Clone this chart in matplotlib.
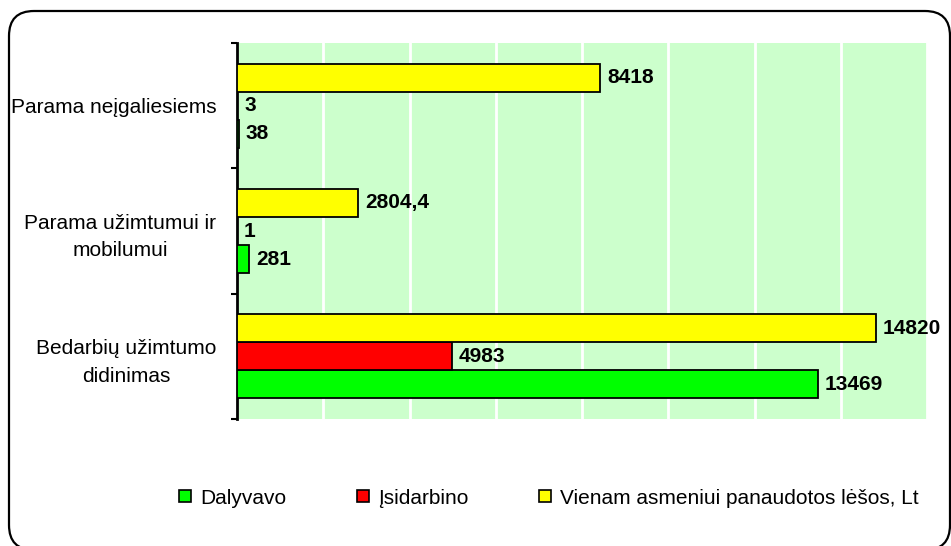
import matplotlib
matplotlib.use("Agg")
from matplotlib import pyplot as plt
from matplotlib.patches import FancyBboxPatch, Patch
from matplotlib.transforms import IdentityTransform
import numpy as np

# data (categories from bottom to top)
categories = ["Bedarbių užimtumo\ndidinimas",
              "Parama užimtumui ir\nmobilumui",
              "Parama neįgaliesiems"]
series_names = ["Dalyvavo", "Įsidarbino", "Vienam asmeniui panaudotos lėšos, Lt"]
dalyvavo = [13469, 281, 38]
isidarbino = [4983, 1, 3]
vienam = [14820, 2804.4, 8418]
colors = ["#00FF00", "#FF0000", "#FFFF00"]

plt.rcParams['font.family'] = ['Liberation Sans', 'DejaVu Sans']
plt.rcParams['font.size'] = 15

W, H = 951, 546
fig = plt.figure(figsize=(W / 100, H / 100), dpi=100)
ax = fig.add_axes([237 / W, 1 - 419 / H, (927 - 237) / W, (419 - 43) / H])
ax.set_facecolor("#CCFFCC")

def fmt(v):
    if float(v).is_integer():
        return str(int(v))
    return str(v).replace(".", ",")

y = np.arange(len(categories))
h = 0.2235
for i, (vals, c) in enumerate(zip([dalyvavo, isidarbino, vienam], colors)):
    pos = y + (i - 1) * h
    ax.barh(pos, vals, height=h, color=c, edgecolor="black", linewidth=1.3, zorder=3)
    for p, v in zip(pos, vals):
        ax.annotate(fmt(v), (v, p), xytext=(5, 0), textcoords="offset points",
                    va="center", ha="left", fontweight="bold", zorder=4)

ax.set_xlim(0, 16000)
ax.set_ylim(-0.5, len(categories) - 0.5)
ax.set_xticks(np.arange(0, 16001, 2000))
ax.xaxis.grid(True, color="white", linewidth=2, zorder=1)
ax.set_axisbelow(True)
ax.tick_params(axis="x", length=0, labelbottom=False)

# category axis: boundary ticks + centered labels
ax.set_yticks(np.arange(-0.5, len(categories), 1.0))
ax.set_yticklabels([])
ax.tick_params(axis="y", which="major", length=4.5, width=1.5, direction="out")
ax.set_yticks(y, minor=True)
ax.set_yticklabels(categories, minor=True)
ax.tick_params(axis="y", which="minor", length=0, pad=15)
for lab in ax.get_yticklabels(minor=True):
    lab.set_multialignment("center")
    lab.set_linespacing(1.55)

for s in ["top", "right", "bottom"]:
    ax.spines[s].set_visible(False)
ax.spines["left"].set_linewidth(2)

handles = [Patch(facecolor=c, edgecolor="black", linewidth=1.2) for c in colors]
fig.legend(handles, series_names, loc="center", bbox_to_anchor=(549 / W, 1 - 498 / H),
           ncol=3, frameon=False, handlelength=0.55, handleheight=0.55,
           handletextpad=0.45, columnspacing=3.4)

# rounded outer border
border = FancyBboxPatch((9, -4), 941, 539, boxstyle="round,pad=0,rounding_size=25",
                        transform=IdentityTransform(), fill=False,
                        edgecolor="black", linewidth=1.6)
fig.add_artist(border)

fig.savefig("out.png", dpi=100)
